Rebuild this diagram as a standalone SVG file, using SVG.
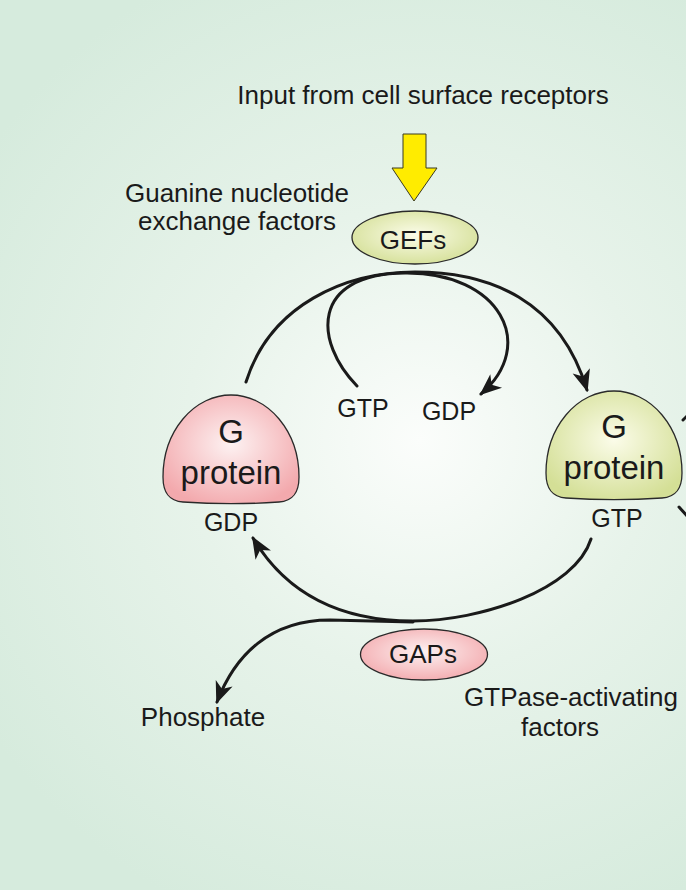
<svg xmlns="http://www.w3.org/2000/svg" width="686" height="890" viewBox="0 0 686 890">
  <defs>
    <radialGradient id="bg" gradientUnits="userSpaceOnUse" cx="420" cy="440" r="520">
      <stop offset="0" stop-color="#fbfdfb"/>
      <stop offset="0.45" stop-color="#e7f3ea"/>
      <stop offset="1" stop-color="#d6ebdd"/>
    </radialGradient>
    <radialGradient id="pink" cx="0.5" cy="0.45" r="0.6">
      <stop offset="0" stop-color="#fdf2f2"/>
      <stop offset="1" stop-color="#f3a9ad"/>
    </radialGradient>
    <radialGradient id="green" cx="0.5" cy="0.45" r="0.6">
      <stop offset="0" stop-color="#fbfce9"/>
      <stop offset="1" stop-color="#d4df96"/>
    </radialGradient>
    <marker id="ah" viewBox="-24 -12 28 24" markerWidth="28" markerHeight="24" refX="0" refY="0" orient="auto" markerUnits="userSpaceOnUse" overflow="visible">
      <path d="M2,0 L-20,-9 L-14,0 L-20,9 Z" fill="#1a1a1a"/>
    </marker>
    <path id="gshape" d="M-68,82 A68 82 0 0 1 68,82 C68,98 62,106 48,107 C20,109 -20,109 -48,107 C-62,106 -68,98 -68,82 Z"/>
  </defs>
  <style>
    text { font-family: "Liberation Sans", Arial, Helvetica, sans-serif; fill: #1a1a1a; }
    .lbl { font-size: 26px; }
    .sm { font-size: 25px; }
    .big { font-size: 33px; }
    .ln { fill: none; stroke: #1a1a1a; stroke-width: 3; stroke-linecap: round; }
    .outline { stroke: #2a2a2a; stroke-width: 1.3; }
  </style>

  <rect x="0" y="0" width="686" height="890" fill="url(#bg)"/>

  <g id="input-label">
    <text class="lbl" x="423" y="104" text-anchor="middle">Input from cell surface receptors</text>
  </g>

  <g id="input-arrow">
    <polygon points="403,134 426,134 426,168 437,168 414,201 392,168 403,168" fill="#ffec00" stroke="#3a3a20" stroke-width="1"/>
  </g>

  <g id="gef-label">
    <text class="lbl" x="237" y="202" text-anchor="middle">Guanine nucleotide</text>
    <text class="lbl" x="237" y="230" text-anchor="middle">exchange factors</text>
  </g>

  <g id="connectors">
    <path class="ln" d="M246,382 C270,305 345,272 415,272 C490,272 560,300 587,390" marker-end="url(#ah)"/>
    <path class="ln" d="M357,386 C314,342 310,274 405,273 C500,272 538,345 481,394" marker-end="url(#ah)"/>
    <path class="ln" d="M591,539 C575,590 480,621 413,621 C350,621 290,600 253,538" marker-end="url(#ah)"/>
    <path class="ln" d="M413,622 L330,620 C270,620 235,655 217,702" marker-end="url(#ah)"/>
    <path class="ln" d="M683,420 L688,415"/>
    <path class="ln" d="M679,507 L688,517"/>
  </g>

  <g id="gefs">
    <ellipse cx="415" cy="237.5" rx="63" ry="26.5" fill="url(#green)" class="outline"/>
    <text class="lbl" x="413" y="249" text-anchor="middle">GEFs</text>
  </g>

  <g id="gtp-in">
    <text class="sm" x="363" y="417" text-anchor="middle">GTP</text>
  </g>
  <g id="gdp-out">
    <text class="sm" x="449" y="420" text-anchor="middle">GDP</text>
  </g>

  <g id="g-protein-gdp">
    <use href="#gshape" transform="translate(231,395)" fill="url(#pink)" class="outline"/>
    <text class="big" x="231" y="443" text-anchor="middle">G</text>
    <text class="big" x="231" y="484" text-anchor="middle">protein</text>
    <text class="sm" x="231" y="531" text-anchor="middle">GDP</text>
  </g>

  <g id="g-protein-gtp">
    <use href="#gshape" transform="translate(614,391)" fill="url(#green)" class="outline"/>
    <text class="big" x="614" y="438" text-anchor="middle">G</text>
    <text class="big" x="614" y="479" text-anchor="middle">protein</text>
    <text class="sm" x="617" y="527" text-anchor="middle">GTP</text>
  </g>

  <g id="gaps">
    <ellipse cx="424" cy="654.5" rx="63.5" ry="25.5" fill="url(#pink)" class="outline"/>
    <text class="lbl" x="423" y="663" text-anchor="middle">GAPs</text>
  </g>

  <g id="gap-label">
    <text class="lbl" x="571" y="706" text-anchor="middle">GTPase-activating</text>
    <text class="lbl" x="560" y="736" text-anchor="middle">factors</text>
  </g>

  <g id="phosphate">
    <text class="lbl" x="203" y="726" text-anchor="middle">Phosphate</text>
  </g>
</svg>
